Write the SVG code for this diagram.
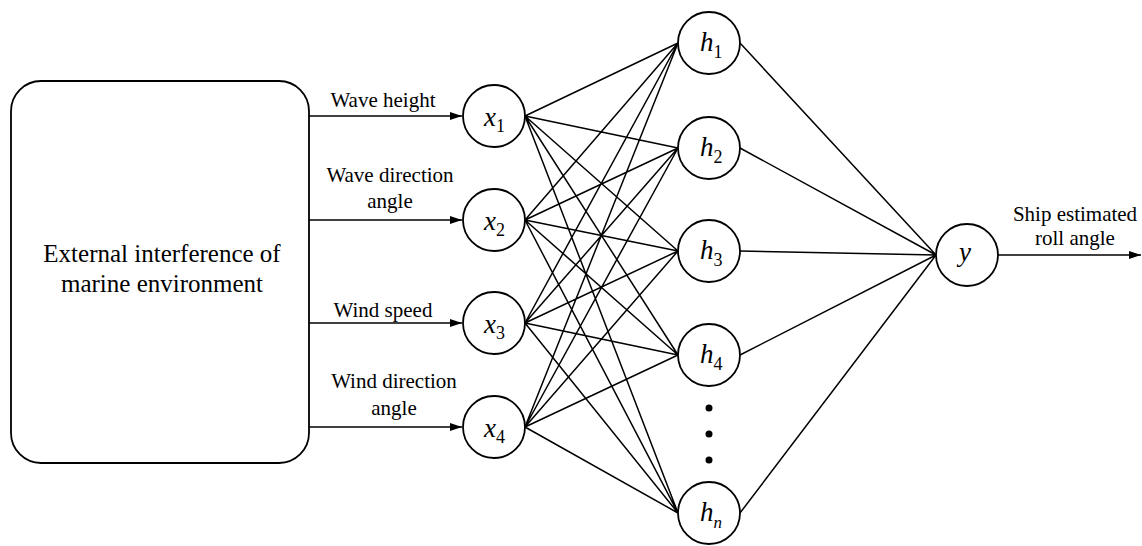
<svg xmlns="http://www.w3.org/2000/svg" width="1142" height="546" viewBox="0 0 1142 546">
<defs>
<style>
.ln{stroke:#000;stroke-width:1.5;fill:none}
.nd{stroke:#000;stroke-width:1.8;fill:#fff}
</style>
<marker id="ar" viewBox="0 0 12 8" refX="12" refY="4" markerWidth="12" markerHeight="8" markerUnits="userSpaceOnUse" orient="auto">
<path d="M0,0 L12,4 L0,8 Z" fill="#000"/>
</marker>
</defs>
<rect width="1142" height="546" fill="#fff"/>
<g id="connectors">
<line class="ln" x1="309" y1="116" x2="462" y2="116" marker-end="url(#ar)"/>
<line class="ln" x1="309" y1="220" x2="462" y2="220" marker-end="url(#ar)"/>
<line class="ln" x1="309" y1="323" x2="462" y2="323" marker-end="url(#ar)"/>
<line class="ln" x1="309" y1="427" x2="462" y2="427" marker-end="url(#ar)"/>
<path class="ln" d="M525,116 L678,43 M525,116 L678,148 M525,116 L678,251 M525,116 L678,355 M525,116 L678,513
M525,220 L678,43 M525,220 L678,148 M525,220 L678,251 M525,220 L678,355 M525,220 L678,513
M525,323 L678,43 M525,323 L678,148 M525,323 L678,251 M525,323 L678,355 M525,323 L678,513
M525,427 L678,43 M525,427 L678,148 M525,427 L678,251 M525,427 L678,355 M525,427 L678,513
M740,43 L936,255 M740,148 L936,255 M740,251 L936,255 M740,355 L936,255 M740,513 L936,255"/>
<line class="ln" x1="998" y1="255" x2="1141" y2="255" marker-end="url(#ar)"/>
</g>
<g id="env">
<rect class="nd" x="11" y="81" width="298" height="382" rx="30" ry="30"/>
<text font-family="'Liberation Serif', 'Times New Roman', serif" font-size="25" text-anchor="middle" x="162" y="262">External interference of</text>
<text font-family="'Liberation Serif', 'Times New Roman', serif" font-size="25" text-anchor="middle" x="162" y="292">marine environment</text>
</g>
<g id="labels" font-family="'Liberation Serif', 'Times New Roman', serif" font-size="21" text-anchor="middle">
<text x="383" y="107">Wave height</text>
<text x="390" y="182">Wave direction</text>
<text x="390" y="208">angle</text>
<text x="383" y="317">Wind speed</text>
<text x="394" y="388">Wind direction</text>
<text x="394" y="415">angle</text>
<text x="1075" y="221">Ship estimated</text>
<text x="1075" y="245">roll angle</text>
</g>
<g font-family="'Liberation Serif', 'Times New Roman', serif" font-size="27" font-style="italic">
<g id="x1"><circle class="nd" cx="494" cy="116" r="31"/><text x="484" y="126">x<tspan font-size="18" font-style="normal" dy="6">1</tspan></text></g>
<g id="x2"><circle class="nd" cx="494" cy="220" r="31"/><text x="484" y="230">x<tspan font-size="18" font-style="normal" dy="6">2</tspan></text></g>
<g id="x3"><circle class="nd" cx="494" cy="323" r="31"/><text x="484" y="333">x<tspan font-size="18" font-style="normal" dy="6">3</tspan></text></g>
<g id="x4"><circle class="nd" cx="494" cy="427" r="31"/><text x="484" y="437">x<tspan font-size="18" font-style="normal" dy="6">4</tspan></text></g>
<g id="h1"><circle class="nd" cx="709" cy="43" r="31"/><text x="700" y="51">h<tspan font-size="18" font-style="normal" dy="7">1</tspan></text></g>
<g id="h2"><circle class="nd" cx="709" cy="148" r="31"/><text x="700" y="156">h<tspan font-size="18" font-style="normal" dy="7">2</tspan></text></g>
<g id="h3"><circle class="nd" cx="709" cy="251" r="31"/><text x="700" y="259">h<tspan font-size="18" font-style="normal" dy="7">3</tspan></text></g>
<g id="h4"><circle class="nd" cx="709" cy="355" r="31"/><text x="700" y="363">h<tspan font-size="18" font-style="normal" dy="7">4</tspan></text></g>
<g id="hn"><circle class="nd" cx="709" cy="513" r="31"/><text x="700" y="521">h<tspan font-size="17" dy="7">n</tspan></text></g>
<g id="y"><circle class="nd" cx="967" cy="255" r="31"/><text x="959" y="261">y</text></g>
</g>
<g id="dots"><circle cx="709" cy="408" r="3.5"/><circle cx="709" cy="434" r="3.5"/><circle cx="709" cy="460" r="3.5"/></g>
</svg>
